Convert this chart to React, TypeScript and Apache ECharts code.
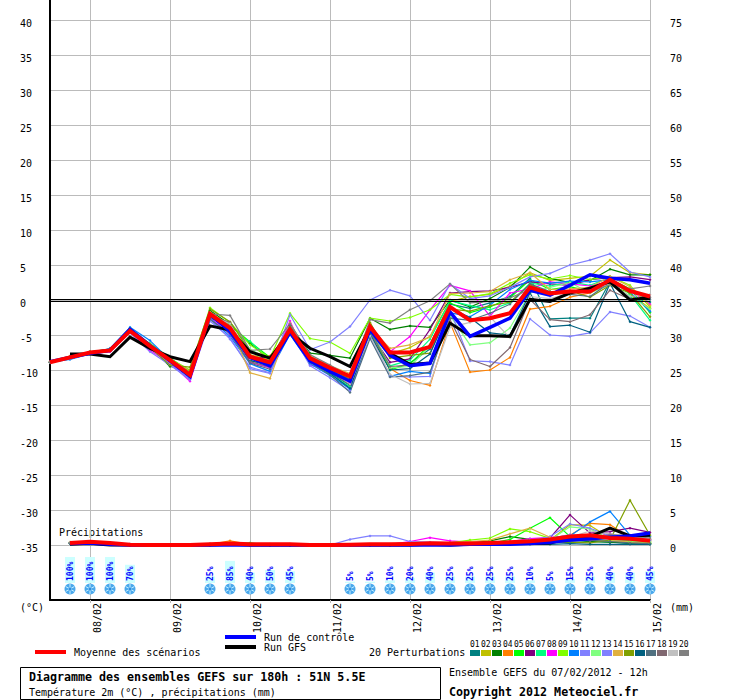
import React, { useEffect, useRef } from "react";
import * as echarts from "echarts";

const steps = Array.from({ length: 31 }, (_, i) => String(i * 6));
const dateLabels: Record<string, string> = { "12": "08/02", "36": "09/02", "60": "10/02", "84": "11/02", "108": "12/02", "132": "13/02", "156": "14/02", "180": "15/02" };
const tempTicks = [40, 35, 30, 25, 20, 15, 10, 5, 0, -5, -10, -15, -20, -25, -30, -35];
const precipTicks = [75, 70, 65, 60, 55, 50, 45, 40, 35, 30, 25, 20, 15, 10, 5, 0];

const memberColors = ["#008080", "#c0c000", "#008000", "#ff8000", "#00ff00", "#800080", "#00ff80", "#ff00ff", "#80ff00", "#0080ff", "#8080ff", "#80ff80", "#8080ff", "#e0b040", "#80a000", "#006080", "#507080", "#806870", "#c0c0c0", "#808080"];

const t01 = [-8.9,-8.3,-7.6,-7.1,-4.3,-6.5,-8.9,-10.9,-2.3,-4.4,-8.6,-9.4,-4.6,-8.8,-10.4,-12.2,-4.4,-9.9,-9.0,-7.0,-0.6,-1.2,-0.4,0.5,3.1,-2.7,-2.6,-2.6,2.6,0.4,-0.3];
const t02 = [-8.9,-8.1,-7.5,-7.2,-4.2,-6.4,-8.5,-10.3,-1.8,-3.8,-7.8,-8.6,-3.9,-8.0,-9.5,-10.8,-3.4,-7.7,-6.8,-5.2,-0.2,0.5,0.8,2.0,3.9,2.8,3.1,3.4,5.7,3.9,3.6];
const t03 = [-8.9,-8.2,-7.4,-7.0,-4.1,-6.7,-9.5,-10.0,-1.5,-3.5,-6.2,-8.5,-3.6,-7.6,-7.9,-8.3,-2.6,-4.2,-3.7,-3.9,0.0,-1.0,0.2,1.8,4.7,3.1,2.5,2.8,4.4,3.6,3.6];
const t04 = [-8.8,-8.0,-7.5,-7.3,-4.5,-6.6,-8.7,-10.5,-2.2,-4.2,-7.4,-8.0,-4.5,-8.6,-9.9,-11.8,-4.9,-9.8,-11.5,-12.2,-3.2,-10.3,-10.0,-8.2,-1.3,-0.9,0.4,1.0,2.9,0.9,-1.2];
const t05 = [-8.9,-8.4,-7.6,-7.2,-4.4,-6.2,-8.3,-10.2,-1.9,-3.6,-6.0,-8.2,-4.8,-8.4,-10.1,-11.9,-3.9,-10.0,-9.1,-6.4,-0.4,-1.8,-1.0,0.3,2.9,1.5,1.9,1.2,3.0,1.6,-1.8];
const t06 = [-8.9,-8.2,-7.5,-7.1,-4.6,-6.8,-9.0,-11.0,-2.4,-4.0,-8.5,-8.1,-4.4,-8.7,-10.3,-11.6,-4.7,-8.9,-8.4,-4.2,1.0,1.2,1.3,1.8,2.6,2.3,2.1,2.9,3.2,3.3,2.9];
const t07 = [-8.9,-8.3,-7.7,-7.3,-4.3,-7.0,-8.8,-10.6,-2.1,-4.7,-5.9,-8.6,-4.7,-8.9,-10.6,-12.4,-4.5,-9.4,-8.6,-5.6,-0.1,-0.8,-1.4,-0.4,2.4,2.0,2.6,2.1,3.2,0.8,-2.9];
const t08 = [-8.9,-8.2,-7.6,-7.4,-4.6,-7.2,-9.0,-11.6,-2.5,-4.9,-8.9,-9.7,-3.0,-9.3,-10.0,-11.9,-4.2,-7.4,-5.2,-1.4,2.1,1.3,-2.3,1.0,1.6,2.6,2.3,2.0,2.7,1.4,-0.6];
const t09 = [-8.9,-8.1,-7.4,-7.0,-4.0,-6.3,-8.4,-10.0,-1.1,-3.2,-6.4,-8.3,-1.9,-5.5,-6.0,-7.6,-2.6,-3.0,-2.5,-1.4,0.8,0.4,0.9,2.4,3.6,3.0,3.5,2.9,3.4,2.1,-1.0];
const t10 = [-8.9,-8.5,-7.7,-6.9,-3.9,-5.8,-8.6,-11.2,-2.6,-5.2,-9.1,-10.2,-4.9,-9.1,-10.8,-12.7,-4.8,-10.9,-10.2,-10.5,-1.8,-2.4,-0.7,1.5,2.8,2.4,2.7,2.6,2.9,1.1,-1.6];
const t11 = [-8.9,-8.4,-7.6,-7.2,-4.4,-6.9,-9.2,-11.3,-2.7,-5.6,-9.6,-10.4,-2.1,-7.1,-6.0,-3.8,0.0,1.4,0.6,-2.9,2.3,0.2,0.6,1.8,3.3,3.8,5.0,5.7,6.6,4.0,3.3];
const t12 = [-8.9,-8.2,-7.5,-7.2,-4.2,-6.5,-8.6,-10.4,-2.0,-3.9,-7.0,-8.6,-4.9,-8.5,-10.0,-11.4,-3.7,-9.7,-9.5,-6.6,-2.2,-6.4,-6.1,-4.0,1.0,1.8,2.5,1.0,2.2,0.6,-1.3];
const t13 = [-8.9,-8.3,-7.7,-7.3,-4.7,-7.4,-9.3,-11.4,-3.0,-5.4,-9.8,-10.5,-4.3,-9.4,-11.1,-13.0,-5.2,-10.9,-11.0,-10.9,-1.4,-8.7,-8.8,-9.3,-2.7,-5.0,-5.2,-4.7,-1.7,-2.3,-3.9];
const t14 = [-8.9,-8.1,-7.5,-7.1,-4.4,-6.7,-8.5,-10.1,-1.7,-3.7,-10.4,-11.2,-3.3,-8.1,-9.4,-10.5,-3.9,-6.9,-6.4,-5.3,0.9,1.0,1.2,2.9,3.9,1.5,1.6,1.8,3.4,1.9,-0.8];
const t15 = [-8.9,-8.2,-7.4,-7.2,-4.3,-6.8,-9.3,-9.6,-1.3,-3.1,-7.3,-8.4,-4.1,-8.2,-9.8,-11.3,-3.2,-8.3,-7.9,-7.6,-1.3,-1.6,-0.8,-0.3,2.2,0.9,1.3,0.4,2.1,1.0,-2.4];
const t16 = [-8.9,-8.3,-7.6,-7.2,-4.5,-6.6,-8.8,-10.9,-2.4,-4.3,-8.7,-9.2,-4.4,-8.8,-10.5,-12.6,-4.9,-10.0,-9.8,-7.7,-1.1,-2.5,-4.7,-5.0,1.0,-3.8,-3.6,-4.6,2.4,-3.1,-3.9];
const t17 = [-8.9,-8.2,-7.5,-7.0,-4.1,-6.4,-8.7,-11.0,-2.8,-4.8,-9.0,-9.9,-3.6,-8.9,-10.7,-13.2,-5.5,-11.0,-10.8,-10.3,-2.6,-2.9,-1.9,-0.6,2.3,1.2,0.8,0.5,2.5,1.2,0.1];
const t18 = [-8.9,-8.3,-7.6,-7.3,-4.4,-6.6,-8.6,-10.7,-2.3,-3.2,-8.8,-9.6,-4.0,-8.6,-10.2,-12.1,-4.4,-9.5,-9.3,-9.1,-2.8,-8.5,-9.5,-6.8,0.1,-2.8,-3.1,-2.1,1.4,0.1,0.4];
const t19 = [-8.9,-8.2,-7.6,-7.2,-4.3,-6.8,-8.9,-10.8,-2.2,-3.4,-8.4,-9.4,-4.2,-8.5,-10.0,-12.0,-5.1,-10.6,-12.0,-11.9,-3.9,-3.2,-2.4,-5.4,0.5,0.2,0.9,1.4,2.3,0.5,0.8];
const t20 = [-8.9,-8.1,-7.5,-7.2,-4.2,-6.5,-8.4,-10.4,-2.0,-2.2,-7.2,-7.0,-3.4,-7.8,-9.3,-10.9,-2.8,-3.3,-1.4,-0.1,2.3,-0.4,-0.2,0.3,1.5,0.7,1.3,1.2,2.2,1.6,2.0];
const tempMembers = [t01, t02, t03, t04, t05, t06, t07, t08, t09, t10, t11, t12, t13, t14, t15, t16, t17, t18, t19, t20];

const tempControl = [-8.8,-8.2,-7.6,-7.2,-4.2,-6.5,-8.7,-10.9,-2.0,-4.5,-8.2,-9.4,-4.6,-8.7,-10.2,-11.6,-4.2,-7.9,-9.4,-9.05,-1.7,-5.2,-3.9,-2.6,1.4,0.7,2.1,3.6,3.1,2.9,2.4];
const tempGfs = [null,-7.7,-7.7,-8.1,-5.3,-6.9,-8.1,-8.8,-3.7,-4.3,-7.4,-8.3,-4.7,-6.9,-8.1,-9.5,-4.0,-7.6,-9.2,-9.0,-3.3,-5.1,-5.1,-5.2,0.1,-0.2,1.0,1.7,2.6,0.0,0.4];
const tempMean = [-8.9,-8.2,-7.5,-7.2,-4.4,-6.6,-8.6,-10.7,-2.0,-4.0,-8.1,-8.9,-4.2,-8.3,-9.7,-10.9,-3.8,-7.5,-7.5,-6.7,-1.0,-2.9,-2.6,-1.9,1.8,0.95,1.2,1.2,2.9,1.3,0.5];

const p01 = [null,0.3,0.4,0.2,0.1,0,0,0,0.1,0.1,0,0,0,0,0,0,0,0,0.1,0.2,0.1,0.1,0.2,0.3,0.4,0.5,0.8,0.5,0.4,0.2,0.1];
const p02 = [null,0.4,0.5,0.3,0,0,0,0,0.1,0.2,0.1,0.1,0,0,0,0,0,0.1,0.2,0.1,0.2,0.2,0.4,0.5,0.3,0.7,2.9,2.8,1.0,0.6,0.5];
const p03 = [null,0.3,0.4,0.2,0,0,0,0,0,0.2,0.1,0,0,0,0,0,0,0,0.1,0.3,0.2,0.3,0.6,1.2,0.8,0.6,0.3,0.5,0.4,0.3,0.2];
const p04 = [null,0.3,0.5,0.3,0.1,0,0,0,0.1,0.6,0.1,0.1,0.1,0,0,0,0,0,0,0.2,0.2,0.4,0.3,0.5,0.7,1.0,1.4,3.1,2.9,1.1,0.6];
const p05 = [null,0.2,0.4,0.2,0,0,0,0,0,0.1,0.3,0,0,0,0,0,0,0,0.1,0.1,0.1,0.2,0.2,0.8,2.4,3.9,1.2,1.5,1.0,0.5,0.3];
const p06 = [null,0.3,0.4,0.3,0,0,0,0,0.1,0.2,0.1,0,0,0,0,0,0,0,0.1,0.2,0.1,0.1,0.3,0.4,0.5,1.0,4.3,1.7,1.9,2.4,1.8];
const p07 = [null,0.3,0.5,0.2,0,0,0,0,0.1,0.1,0.1,0,0,0,0,0,0,0,0.1,0.1,0.2,0.1,0.2,0.3,0.9,0.8,0.5,1.4,0.9,0.6,0.2];
const p08 = [null,0.3,0.4,0.3,0.1,0,0,0,0,0.2,0,0,0.1,0,0,0,0,0.1,0.5,1.05,0.6,0.4,0.3,0.5,0.9,1.1,1.3,1.0,1.6,1.0,0.8];
const p09 = [null,0.4,0.4,0.2,0,0,0,0,0.1,0.3,0.1,0,0,0,0,0,0,0,0.1,0.2,0.3,0.7,1.0,2.3,1.9,0.95,0.7,0.9,0.6,0.4,0.3];
const p10 = [null,0.3,0.5,0.3,0,0,0,0,0.1,0.1,0.1,0.1,0,0,0,0,0,0,0,0.1,0.1,0.2,0.2,0.3,0.6,1.0,1.3,3.3,4.8,1.4,1.2];
const p11 = [null,0.2,0.3,0.2,0,0,0,0,0,0.1,0,0,0,0,0,0.8,1.3,1.3,0.5,0.4,0.3,0.2,0.2,0.4,0.6,0.9,1.5,1.1,1.2,0.9,0.6];
const p12 = [null,0.3,0.4,0.2,0,0,0,0,0.1,0.2,0.1,0,0,0,0,0,0,0,0.1,0.2,0.1,0.2,0.3,0.4,0.5,0.7,2.6,2.3,0.8,0.5,0.4];
const p13 = [null,0.3,0.4,0.3,0.1,0,0,0,0,0.1,0.1,0,0,0,0,0,0,0,0,0.1,0.2,0.1,0.2,0.3,0.6,1.2,3.0,2.4,1.3,1.4,0.7];
const p14 = [null,0.4,0.5,0.2,0,0,0,0,0.1,0.4,0.1,0,0,0,0,0,0,0,0.1,0.2,0.3,0.5,0.7,1.6,2.4,1.1,0.9,0.7,0.6,0.4,0.2];
const p15 = [null,0.3,0.4,0.2,0,0,0,0,0.1,0.2,0,0,0,0,0,0,0,0,0.1,0.1,0.2,0.2,0.3,0.4,0.3,0.5,0.4,0.3,0.7,6.4,1.4];
const p16 = [null,0.2,0.4,0.3,0,0,0,0,0,0.1,0.1,0,0,0,0,0,0,0,0.1,0.1,0.1,0.1,0.1,0.2,0.1,0.1,0.2,0.1,0.1,0.1,0.1];
const p17 = [null,0.3,0.4,0.2,0,0,0,0,0.1,0.1,0,0,0,0,0,0,0,0,0,0.1,0.1,0.2,0.2,0.3,0.2,0.4,0.5,0.7,0.5,0.3,0.2];
const p18 = [null,0.3,0.5,0.3,0,0,0,0,0.1,0.2,0.1,0,0,0,0,0,0,0,0.1,0.1,0.1,0.2,0.2,0.2,0.3,0.6,0.9,0.6,1.4,1.0,0.8];
const p19 = [null,0.4,0.4,0.2,0,0,0,0,0,0.1,0.1,0,0,0,0,0,0,0,0.1,0.2,0.2,0.1,0.2,0.3,0.3,0.4,1.1,2.0,1.6,1.2,0.9];
const p20 = [null,0.3,0.4,0.3,0.1,0,0,0,0.1,0.2,0.1,0,0.1,0,0,0,0,0,0.2,0.2,0.2,0.3,0.3,0.4,0.5,0.6,1.0,0.8,1.5,1.3,1.0];
const precipMembers = [p01, p02, p03, p04, p05, p06, p07, p08, p09, p10, p11, p12, p13, p14, p15, p16, p17, p18, p19, p20];

const precipControl = [null,0.2,0.3,0.1,0,0,0,0,0,0,0,0,0,0,0,0,0,0,0,0,0,0.1,0.1,0.1,0.2,0.4,0.7,0.9,1.1,1.3,1.7];
const precipGfs = [null,0.1,0.2,0,0,0,0,0,0,0.1,0,0,0,0,0,0,0,0,0,0.1,0,0.1,0.1,0.2,0.2,0.3,1.0,1.2,2.4,1.3,1.4];
const precipMean = [null,0.3,0.45,0.3,0.05,0,0,0,0.1,0.2,0.1,0.1,0.1,0,0,0.05,0.1,0.1,0.15,0.25,0.2,0.2,0.3,0.4,0.55,0.8,1.2,1.4,1.0,0.9,0.6];

const snowPercent: (number | null)[] = [null,100,100,100,70,null,null,null,25,85,40,50,45,null,null,5,5,10,20,40,25,25,25,25,10,5,15,25,40,40,45];

const MONO = '"DejaVu Sans Mono", "Liberation Mono", monospace';
const BLACK = "#000000";
const GRID = "#bbbbbb";
const TEMP_EXT = 300 / 7;

function snowItem(_: any, api: any) {
  const [x, y] = api.coord([api.value(0), 0]);
  const pct = api.value(1);
  const h = pct * 0.26;
  const cy = y + 6;
  const spokes = [0, 1, 2].map((k) => {
    const a = (k * Math.PI) / 3 + Math.PI / 6;
    const dx = 5 * Math.cos(a);
    const dy = 5 * Math.sin(a);
    return { type: "line", shape: { x1: x - dx, y1: cy - dy, x2: x + dx, y2: cy + dy }, style: { stroke: "#c8f0ff", lineWidth: 1 } };
  });
  return {
    type: "group",
    children: [
      { type: "rect", shape: { x: x - 5, y: y - h, width: 10, height: h }, style: { fill: "#ccffff" } },
      { type: "circle", shape: { cx: x, cy, r: 5.5 }, style: { fill: "#4aa8ec" } },
      ...spokes,
      { type: "circle", shape: { cx: x, cy, r: 1.5 }, style: { fill: "#2f8fe0" } },
      { type: "text", x: x, y: y - 2, rotation: Math.PI / 2, style: { text: pct + "%", fill: "#0000ff", font: `bold 8px ${MONO}`, align: "left", verticalAlign: "middle" } },
    ],
  };
}

function txt(text: string, x: number, y: number, bold = false, size = 10) {
  return { type: "text", x, y, silent: true, style: { text, fill: BLACK, font: `${bold ? "bold " : ""}${size}px ${MONO}`, verticalAlign: "middle" } };
}

function bar(x: number, y: number, width: number, height: number, fill: string) {
  return { type: "rect", x, y, shape: { width, height }, silent: true, style: { fill } };
}

export default function App() {
  const ref = useRef<HTMLDivElement>(null);
  useEffect(() => {
    const chart = echarts.init(ref.current!, undefined, { renderer: "svg" });
    const thin = (name: string, data: any[], color: string, yAxisIndex: number, z: number) => ({
      name, type: "line", data, yAxisIndex, z,
      symbol: "diamond", symbolSize: 3,
      showSymbol: true,
      lineStyle: { width: 1.2, color },
      itemStyle: { color },
      connectNulls: false,
      clip: true,
    });
    const thick = (name: string, data: any[], color: string, width: number, yAxisIndex: number, z: number) => ({
      name, type: "line", data, yAxisIndex, z, symbol: "none",
      lineStyle: { width, color, join: "miter" },
      clip: true,
    });
    const series: any[] = [
      {
        name: "zero", type: "line", data: [], z: 1, symbol: "none",
        markLine: { silent: true, symbol: "none", label: { show: false }, lineStyle: { color: BLACK, width: 1, type: "solid" }, data: [{ yAxis: 1 / 7 }, { yAxis: -1 / 7 }] },
      },
      { name: "snow", type: "custom", yAxisIndex: 2, z: 2, data: snowPercent.map((p, i) => (p == null ? null : [i, p])).filter(Boolean), renderItem: snowItem, encode: { x: 0, y: 1 } },
      ...tempMembers.map((d, i) => thin("T" + (i + 1), d, memberColors[i], 0, 3)),
      ...precipMembers.map((d, i) => thin("P" + (i + 1), d, memberColors[i], 1, 3)),
      thick("GFS", tempGfs, BLACK, 3, 0, 4),
      thick("GFS precip", precipGfs, BLACK, 3, 1, 4),
      thick("Control", tempControl, "#0000ff", 3.5, 0, 5),
      thick("Control precip", precipControl, "#0000ff", 3.5, 1, 5),
      thick("Mean", tempMean, "#ff0000", 4, 0, 6),
      thick("Mean precip", precipMean, "#ff0000", 4, 1, 6),
    ];
    const legendX = 470;
    const graphic: any[] = [
      txt("Précipitations", 59, 532),
      txt("(°C)", 20, 607),
      txt("(mm)", 670, 607),
      bar(35, 650, 31, 4, "#ff0000"),
      txt("Moyenne des scénarios", 74, 652),
      bar(225, 635, 31, 4, "#0000ff"),
      txt("Run de contrôle", 264, 637),
      bar(225, 645, 31, 4, BLACK),
      txt("Run GFS", 264, 647),
      txt("20 Perturbations", 369, 652),
      ...memberColors.map((c, i) => bar(legendX + i * 11, 650, 10, 6, c)),
      ...memberColors.map((_, i) => txt(String(i + 1).padStart(2, "0"), legendX + i * 11, 644, false, 8)),
      { type: "rect", silent: true, shape: { x: 20.5, y: 667.5, width: 420, height: 32 }, style: { fill: "#ffffff", stroke: BLACK, lineWidth: 1 } },
      txt("Diagramme des ensembles GEFS sur 180h : 51N 5.5E", 29, 677, true, 11.65),
      txt("Température 2m (°C) , précipitations (mm)", 29, 692),
      txt("Ensemble GEFS du 07/02/2012 - 12h", 449, 672),
      txt("Copyright 2012 Meteociel.fr", 449, 692, true, 11.65),
    ];
    chart.setOption({
      animation: false,
      backgroundColor: "#ffffff",
      grid: { left: 50, right: 90, top: 0, height: 600, containLabel: false },
      xAxis: {
        type: "category",
        data: steps,
        boundaryGap: false,
        axisLine: { show: true, onZero: false, lineStyle: { color: BLACK, width: 2 } },
        axisTick: { show: true, length: 3, interval: (i: number) => i % 4 === 2, lineStyle: { color: GRID } },
        splitLine: { show: true, interval: (i: number) => i % 4 === 2, lineStyle: { color: GRID, width: 1 } },
        axisLabel: {
          interval: (i: number) => i % 4 === 2,
          rotate: 90,
          margin: 3,
          fontFamily: MONO,
          fontSize: 10,
          color: BLACK,
          align: "right",
          verticalAlign: "top",
          padding: [2, 0, 0, 0],
          formatter: (v: string) => dateLabels[v] ?? "",
        },
      },
      yAxis: [
        {
          type: "value",
          min: -TEMP_EXT,
          max: TEMP_EXT,
          axisLine: { show: true, onZero: false, lineStyle: { color: BLACK, width: 2 } },
          axisTick: { show: false, customValues: tempTicks },
          splitLine: { show: true, lineStyle: { color: GRID, width: 1 } },
          axisLabel: { customValues: tempTicks, align: "left", margin: 30, fontFamily: MONO, fontSize: 10, color: BLACK, verticalAlign: "top", lineHeight: 6, formatter: (v: number) => String(v) },
        },
        {
          type: "value",
          position: "right",
          min: 35 - TEMP_EXT,
          max: 35 + TEMP_EXT,
          axisLine: { show: false },
          axisTick: { show: false, customValues: precipTicks },
          splitLine: { show: false },
          axisLabel: { customValues: precipTicks, align: "left", margin: 20, fontFamily: MONO, fontSize: 10, color: BLACK, verticalAlign: "top", lineHeight: 6, formatter: (v: number) => String(v) },
        },
        {
          type: "value",
          show: false,
          min: -17 / 0.26,
          max: 583 / 0.26,
          axisLine: { show: false },
          axisTick: { show: false },
          axisLabel: { show: false },
          splitLine: { show: false },
        },
      ],
      series,
      graphic,
    });
    return () => chart.dispose();
  }, []);
  return <div ref={ref} style={{ position: "fixed", left: 0, top: 0, width: 740, height: 700 }} />;
}
